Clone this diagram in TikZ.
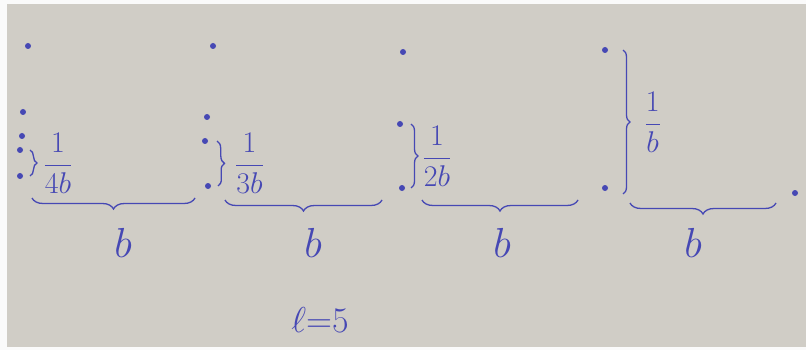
\RequirePackage{fix-cm}
\documentclass[tikz,border=0pt]{standalone}
\usepackage{amsmath}
\usetikzlibrary{decorations.pathreplacing, positioning}
\definecolor{INK}{RGB}{70,72,180}
\definecolor{PAPER}{RGB}{208,205,198}
\definecolor{EDGE}{RGB}{250,250,250}

\begin{document}
\begin{tikzpicture}[
  x=1pt, y=-1pt,
  dot/.style={circle, fill=INK, inner sep=0pt, minimum size=6pt},
  vbrace/.style={draw=INK, line width=1.3pt,
                 decorate, decoration={brace, amplitude=7pt}},
  hbrace/.style={draw=INK, line width=1.3pt,
                 decorate, decoration={brace, mirror, amplitude=11pt}},
  frac/.style={text=INK, font=\fontsize{30}{34}\selectfont, inner sep=1pt},
  blab/.style={text=INK, font=\fontsize{42}{46}\selectfont}
]
% paper
\fill[EDGE] (0,0) rectangle (806,350);
\fill[PAPER] (7,4) rectangle (806,347);
\useasboundingbox (0,0) rectangle (806,350);

% Column 1: step 1/4b
\node[dot] (d11) at (28,46)  {};
\node[dot] (d12) at (23,112) {};
\node[dot] (d13) at (22,136) {};
\node[dot] (d14) at (20,150) {};
\node[dot] (d15) at (20,176) {};
\draw[vbrace] ([xshift=10pt]d14.center) -- ([xshift=10pt]d15.center)
  node[midway, right=12pt, frac] (f1) {$\dfrac{1}{4b}$};

% Column 2: step 1/3b
\node[dot] (d21) at (213,46)  {};
\node[dot] (d22) at (207,117) {};
\node[dot] (d23) at (205,141) {};
\node[dot] (d24) at (208,186) {};
\draw[vbrace] ([xshift=12pt]d23.center) -- ([xshift=10pt]d24.center)
  node[midway, right=16pt, frac] (f2) {$\dfrac{1}{3b}$};

% Column 3: step 1/2b
\node[dot] (d31) at (403,52)  {};
\node[dot] (d32) at (400,124) {};
\node[dot] (d33) at (402,188) {};
\draw[vbrace] ([xshift=11pt]d32.center) -- ([xshift=9pt]d33.center)
  node[midway, right=10pt, frac] (f3) {$\dfrac{1}{2b}$};

% Column 4: step 1/b
\node[dot] (d41) at (605,50)  {};
\node[dot] (d42) at (605,188) {};
\draw[vbrace] ([xshift=18pt]d41.center) -- ([xshift=18pt,yshift=-6pt]d42.center)
  node[midway, right=20pt, frac] (f4) {$\dfrac{1}{b}$};

\node[dot] (d5) at (795,193) {};

% widths b
\coordinate (h1a) at (32,198);  \coordinate (h1b) at (195,198);
\coordinate (h2a) at (225,200); \coordinate (h2b) at (382,200);
\coordinate (h3a) at (422,200); \coordinate (h3b) at (578,200);
\coordinate (h4a) at (630,203); \coordinate (h4b) at (776,203);
\foreach \i/\x in {1/123,2/313,3/502,4/693} {
  \draw[hbrace] (h\i a) -- (h\i b);
  \node[blab] (b\i) at (\x,243) {$b$};
}

\node[blab, font=\fontsize{36}{40}\selectfont] (len) at (320,320) {$\ell{=}5$};
\end{tikzpicture}
\end{document}
